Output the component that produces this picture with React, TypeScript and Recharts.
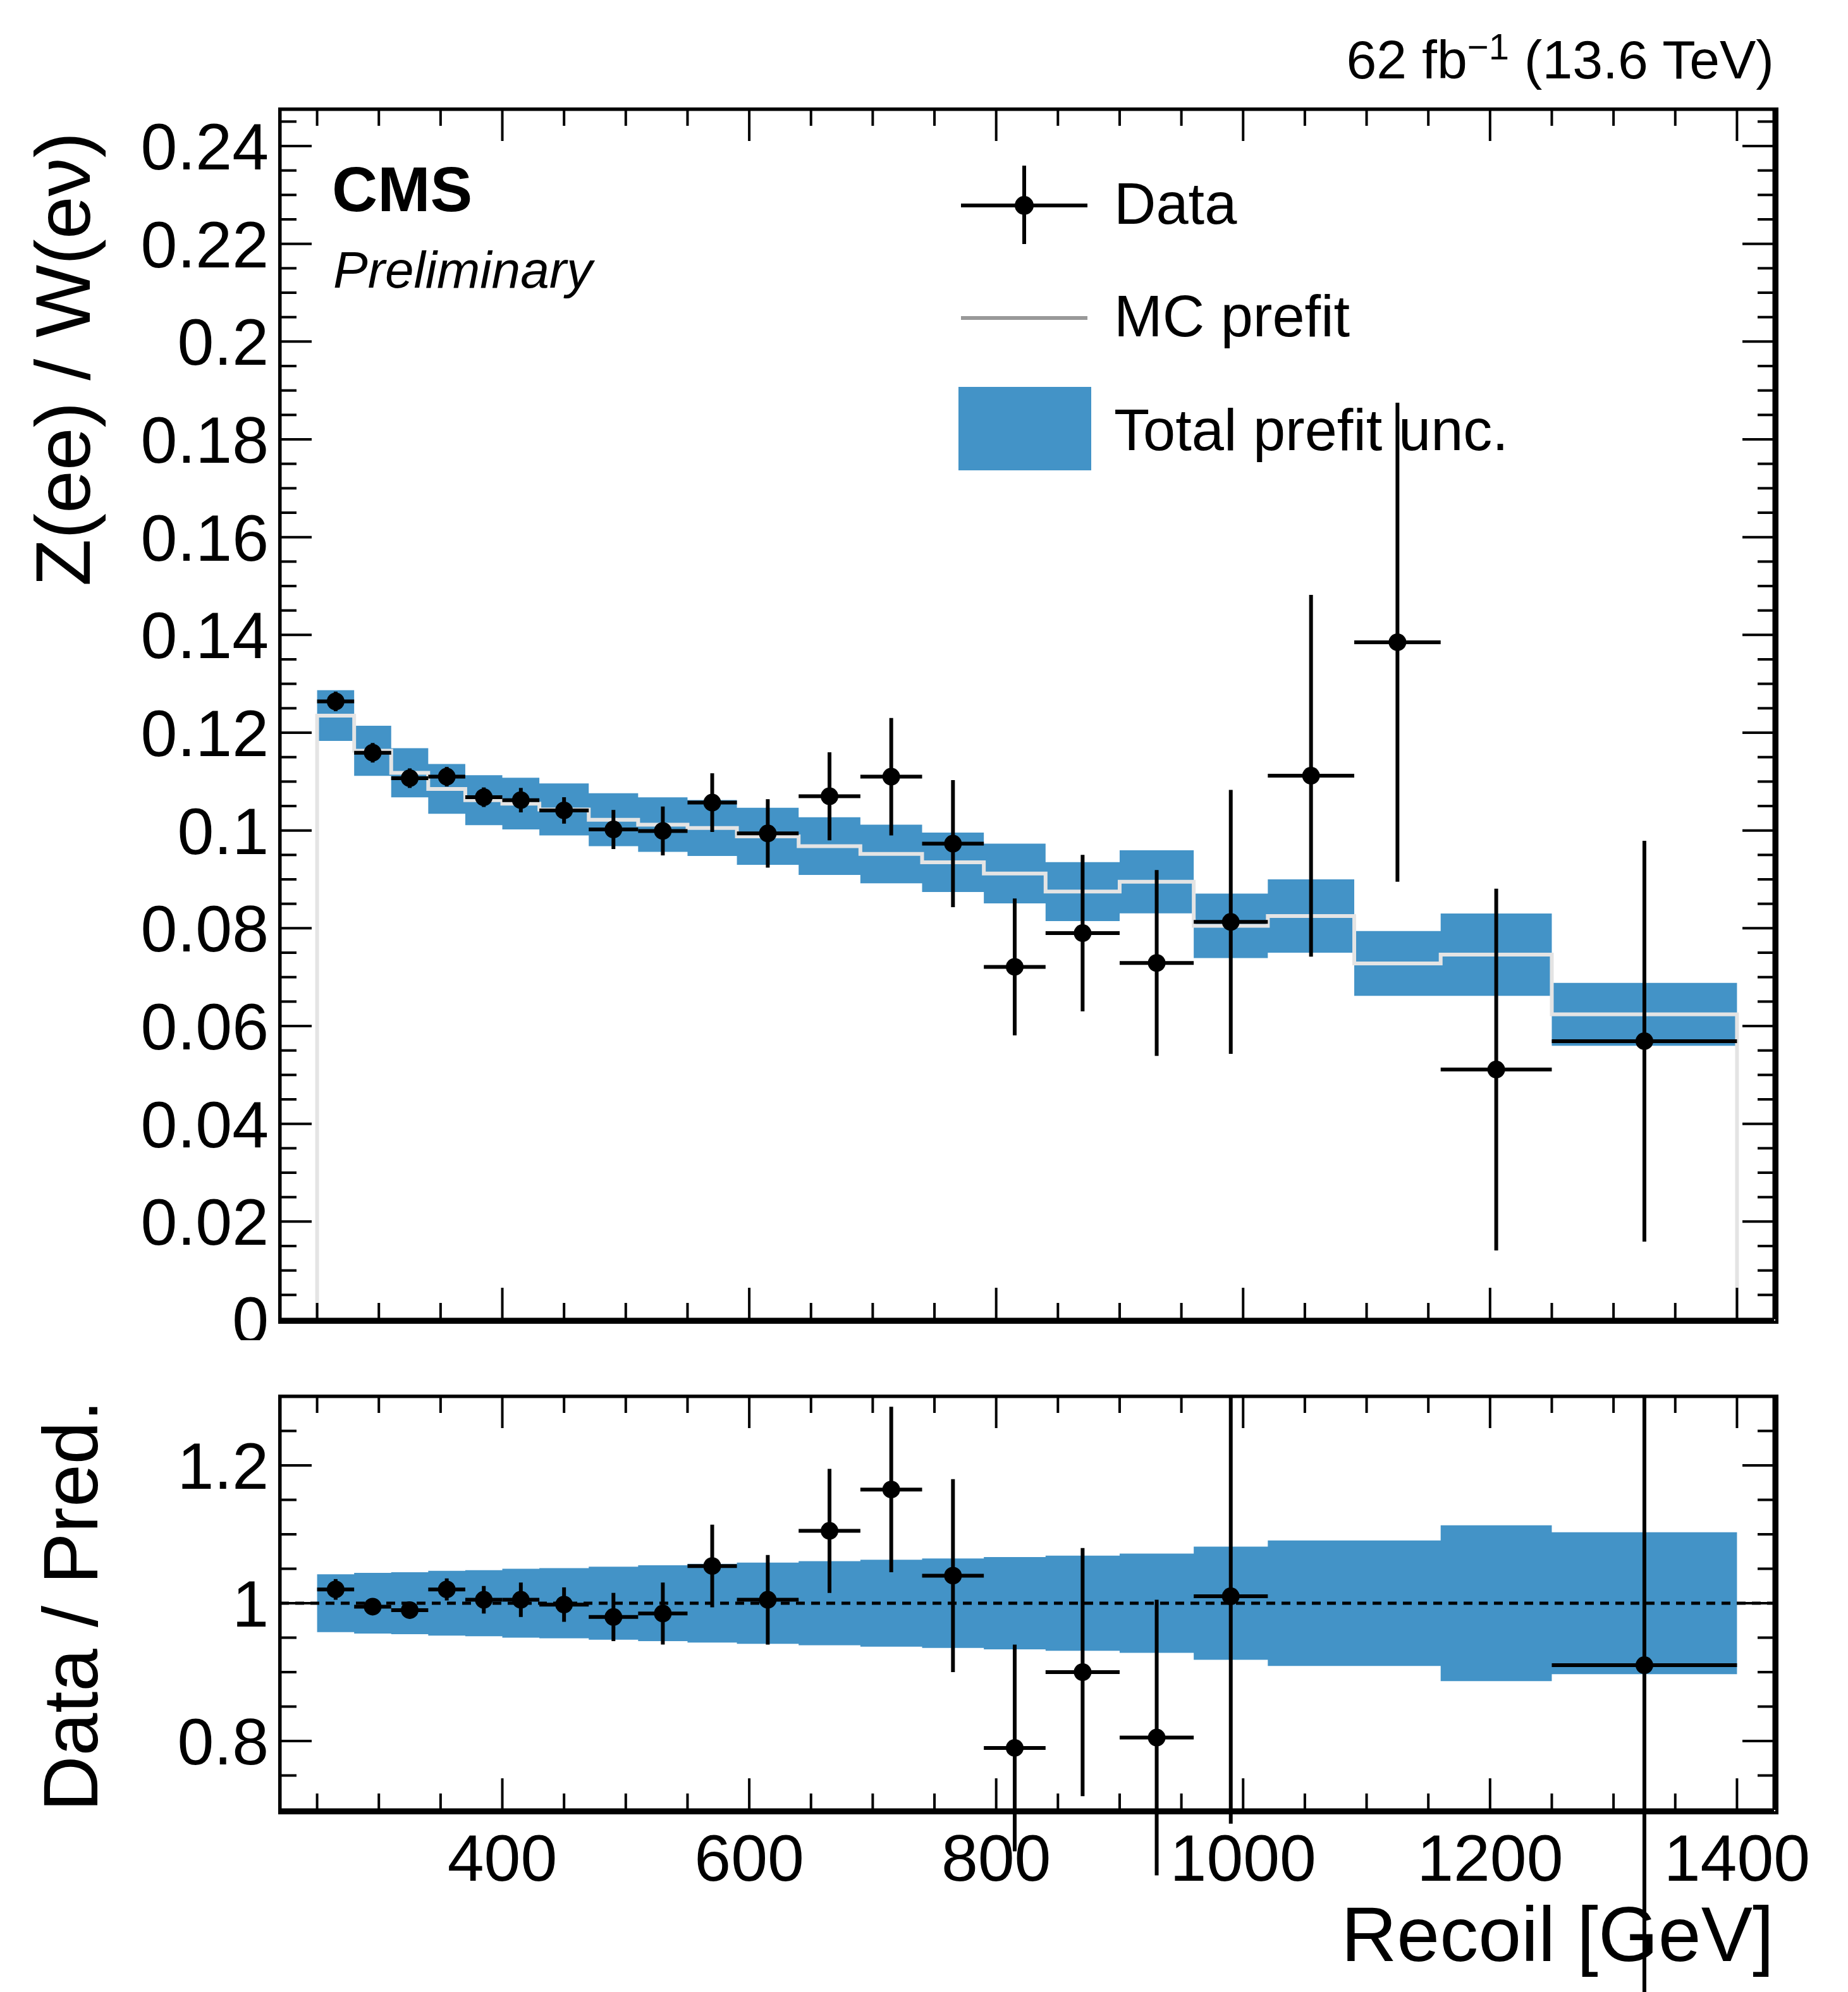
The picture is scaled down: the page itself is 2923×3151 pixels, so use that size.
import React from "react";
import { ComposedChart, XAxis, YAxis, Scatter, ErrorBar, Line, Area, ReferenceLine } from "recharts";

const binEdges = [250,280,310,340,370,400,430,470,510,550,590,640,690,740,790,840,900,960,1020,1090,1160,1250,1400];
const dataVals = [0.1264,0.1159,0.1107,0.111,0.1068,0.1062,0.1041,0.1002,0.0999,0.1057,0.0994,0.107,0.111,0.0973,0.0721,0.079,0.0729,0.0813,0.1112,0.1385,0.0511,0.0569];
const dataErr = [0.002,0.002,0.002,0.002,0.002,0.0025,0.0027,0.004,0.005,0.006,0.007,0.009,0.012,0.013,0.014,0.016,0.019,0.027,0.037,0.049,0.037,0.041];
const mcVals = [0.1235,0.1163,0.1118,0.1085,0.1062,0.1055,0.1043,0.1022,0.1012,0.1005,0.0988,0.0968,0.0952,0.0935,0.0912,0.0875,0.0895,0.0805,0.0825,0.0728,0.0746,0.0624];
const relUnc = [0.042,0.044,0.045,0.047,0.048,0.05,0.051,0.053,0.055,0.057,0.059,0.061,0.063,0.065,0.067,0.069,0.072,0.082,0.091,0.091,0.113,0.103];
const ratioVals = [1.02,0.995,0.99,1.02,1.005,1.005,0.998,0.98,0.985,1.054,1.005,1.105,1.165,1.04,0.79,0.9,0.805,1.01,null,null,null,0.91];
const ratioErr = [0.015,0.012,0.01,0.016,0.02,0.025,0.025,0.035,0.045,0.06,0.065,0.09,0.12,0.14,0.15,0.18,0.2,0.33,null,null,null,0.65];

const W = 2923, H = 3151;
const BLUE = "#4393c7";
const FONT = "'Liberation Sans', Arial, sans-serif";

const centers = binEdges.slice(0, -1).map((e, i) => (e + binEdges[i + 1]) / 2);
const halfW = binEdges.slice(0, -1).map((e, i) => (binEdges[i + 1] - e) / 2);

const topPoints = dataVals.map((v, i) => ({ x: centers[i], y: v, ex: halfW[i], ey: dataErr[i] }));
const ratioPoints = ratioVals.map((v, i) => ({ x: centers[i], y: v, ex: halfW[i], ey: ratioErr[i] })).filter(p => p.y !== null);
const mcLine = [{ x: 250, y: 0 }, ...binEdges.map((e, i) => ({ x: e, y: mcVals[Math.min(i, mcVals.length - 1)] })), { x: 1400, y: 0 }];
const topBand = binEdges.map((e, i) => { const k = Math.min(i, mcVals.length - 1); return { x: e, r: [mcVals[k] * (1 - relUnc[k]), mcVals[k] * (1 + relUnc[k])] }; });
const ratioBand = binEdges.map((e, i) => { const k = Math.min(i, relUnc.length - 1); return { x: e, r: [1 - relUnc[k], 1 + relUnc[k]] }; });

const xTicks: number[] = []; for (let v = 250; v <= 1400; v += 50) xTicks.push(v);
const xMajor = [400, 600, 800, 1000, 1200, 1400];
const yTicks: number[] = []; for (let i = 0; i <= 49; i++) yTicks.push(+(i * 0.005).toFixed(3));
const yMajorLabels = ["0","0.02","0.04","0.06","0.08","0.1","0.12","0.14","0.16","0.18","0.2","0.22","0.24"];
const rTicks: number[] = []; for (let i = 0; i <= 12; i++) rTicks.push(+(0.7 + i * 0.05).toFixed(2));
const rMajor = [0.8, 1, 1.2];

const MAJ = 50, MIN = 26, TF = 104;
const isMaj = (v: number, list: number[]) => list.some(m => Math.abs(m - v) < 1e-6);

const mkX = (side: "bottom" | "top", labels: boolean) => (p: any) => {
  const v = p.payload.value; const maj = isMaj(v, xMajor); const L = maj ? MAJ : MIN;
  const d = side === "bottom" ? -1 : 1;
  return (<g>
    <line x1={p.x} x2={p.x} y1={p.y} y2={p.y + d * L} stroke="#000" strokeWidth={4} />
    {labels && maj && <text x={p.x} y={p.y + 112} textAnchor="middle" fontSize={TF} fontFamily={FONT}>{v}</text>}
  </g>);
};
const mkY = (side: "left" | "right", majList: number[], labelFn: ((v: number) => string) | null) => (p: any) => {
  const v = p.payload.value; const maj = isMaj(v, majList); const L = maj ? MAJ : MIN;
  const d = side === "left" ? 1 : -1;
  return (<g>
    <line x1={p.x} x2={p.x + d * L} y1={p.y} y2={p.y} stroke="#000" strokeWidth={4} />
    {labelFn && maj && <text x={p.x - 18} y={p.y + 37} textAnchor="end" fontSize={TF} fontFamily={FONT}>{labelFn(v)}</text>}
  </g>);
};
const topYLabel = (v: number) => yMajorLabels[Math.round(v / 0.02)];
const topMaj = yMajorLabels.map((_, i) => +(i * 0.02).toFixed(2));

const L = 443, R = 2806;
const T1 = 173, B1 = 2087, T2 = 2209, B2 = 2863;
const axisCommon = { axisLine: { stroke: "#000", strokeWidth: 5 }, tickLine: false, tickSize: 0, tickMargin: 0, interval: 0 as const };

export default function App() {
  return (
    <div style={{ position: "absolute", left: 0, top: 0, width: W, height: H, background: "#fff", fontFamily: FONT }}>
      <div style={{ position: "absolute", left: 0, top: 0 }}>
        <ComposedChart width={W} height={2120} margin={{ left: L - 1, right: W - R - 1, top: T1 - 1, bottom: 2120 - B1 - 1 }}>
          <XAxis xAxisId="b" type="number" dataKey="x" domain={[220, 1430]} ticks={xTicks} height={1} tick={mkX("bottom", false)} {...axisCommon} allowDataOverflow />
          <XAxis xAxisId="t" orientation="top" type="number" dataKey="x" domain={[220, 1430]} ticks={xTicks} height={1} tick={mkX("top", false)} {...axisCommon} allowDataOverflow />
          <YAxis yAxisId="l" type="number" domain={[0, 0.2475]} ticks={yTicks} width={1} tick={mkY("left", topMaj, topYLabel)} {...axisCommon} allowDataOverflow />
          <YAxis yAxisId="r" orientation="right" type="number" domain={[0, 0.2475]} ticks={yTicks} width={1} tick={mkY("right", topMaj, null)} {...axisCommon} allowDataOverflow />
          <Area xAxisId="b" yAxisId="l" data={topBand} dataKey="r" type="stepAfter" fill={BLUE} fillOpacity={1} stroke="none" isAnimationActive={false} />
          <Line xAxisId="b" yAxisId="l" data={mcLine} dataKey="y" type="stepAfter" stroke="#e4e4e4" strokeWidth={6} dot={false} isAnimationActive={false} />
          <Scatter xAxisId="b" yAxisId="l" data={topPoints} dataKey="y" fill="#000" isAnimationActive={false}
            shape={(p: any) => <circle cx={p.cx} cy={p.cy} r={14} fill="#000" />}>
            <ErrorBar dataKey="ey" direction="y" width={0} stroke="#000" strokeWidth={6} />
            <ErrorBar dataKey="ex" direction="x" width={0} stroke="#000" strokeWidth={6} />
          </Scatter>
        </ComposedChart>
      </div>
      <div style={{ position: "absolute", left: 0, top: 2120, width: W, height: H - 2120, overflow: "hidden" }}>
        <ComposedChart width={W} height={H - 2120} margin={{ left: L - 1, right: W - R - 1, top: T2 - 2120 - 1, bottom: H - B2 - 1 }}>
          <XAxis xAxisId="b" type="number" dataKey="x" domain={[220, 1430]} ticks={xTicks} height={1} tick={mkX("bottom", true)} {...axisCommon} allowDataOverflow />
          <XAxis xAxisId="t" orientation="top" type="number" dataKey="x" domain={[220, 1430]} ticks={xTicks} height={1} tick={mkX("top", false)} {...axisCommon} allowDataOverflow />
          <YAxis yAxisId="l" type="number" domain={[0.7, 1.3]} ticks={rTicks} width={1} tick={mkY("left", rMajor, (v) => String(v))} {...axisCommon} allowDataOverflow />
          <YAxis yAxisId="r" orientation="right" type="number" domain={[0.7, 1.3]} ticks={rTicks} width={1} tick={mkY("right", rMajor, null)} {...axisCommon} allowDataOverflow />
          <Area xAxisId="b" yAxisId="l" data={ratioBand} dataKey="r" type="stepAfter" fill={BLUE} fillOpacity={1} stroke="none" isAnimationActive={false} />
          <ReferenceLine xAxisId="b" yAxisId="l" y={1} stroke="#000" strokeWidth={5} strokeDasharray="14 10" />
          <Scatter xAxisId="b" yAxisId="l" data={ratioPoints} dataKey="y" fill="#000" isAnimationActive={false}
            shape={(p: any) => <circle cx={p.cx} cy={p.cy} r={14} fill="#000" />}>
            <ErrorBar dataKey="ey" direction="y" width={0} stroke="#000" strokeWidth={6} />
            <ErrorBar dataKey="ex" direction="x" width={0} stroke="#000" strokeWidth={6} />
          </Scatter>
        </ComposedChart>
      </div>
      {/* white masks to clip ratio overflow outside the panel */}
      <div style={{ position: "absolute", left: L, top: 2120, width: R - L, height: T2 - 2120 - 3, background: "#fff" }} />
      {/* frames */}
      <div style={{ position: "absolute", left: L - 2, top: T1 - 2, width: R - L, height: B1 - T1, border: "5px solid #000", boxSizing: "content-box", pointerEvents: "none", marginLeft: -1, marginTop: -1 }} />
      <div style={{ position: "absolute", left: L - 2, top: T2 - 2, width: R - L, height: B2 - T2, border: "5px solid #000", boxSizing: "content-box", pointerEvents: "none", marginLeft: -1, marginTop: -1 }} />
      {/* axis titles */}
      <div style={{ position: "absolute", left: 100, top: 568, transform: "translate(-50%,-50%) rotate(-90deg)", fontSize: 122, whiteSpace: "nowrap" }}>Z(ee) / W(eν)</div>
      <div style={{ position: "absolute", left: 112, top: 2540, transform: "translate(-50%,-50%) rotate(-90deg)", fontSize: 122, whiteSpace: "nowrap" }}>Data / Pred.</div>
      <div style={{ position: "absolute", right: W - R, top: 2990, fontSize: 122, whiteSpace: "nowrap" }}>Recoil [GeV]</div>
      <div style={{ position: "absolute", right: W - R, top: 40, fontSize: 86, whiteSpace: "nowrap" }}>62 fb<sup style={{ fontSize: 58 }}>−1</sup> (13.6 TeV)</div>
      <div style={{ position: "absolute", left: 525, top: 242, fontSize: 100, fontWeight: "bold" }}>CMS</div>
      <div style={{ position: "absolute", left: 527, top: 380, fontSize: 82, fontStyle: "italic" }}>Preliminary</div>
      {/* legend */}
      <div style={{ position: "absolute", left: 1520, top: 322, width: 200, height: 6, background: "#000" }} />
      <div style={{ position: "absolute", left: 1617, top: 262, width: 6, height: 124, background: "#000" }} />
      <div style={{ position: "absolute", left: 1605, top: 310, width: 30, height: 30, borderRadius: 15, background: "#000" }} />
      <div style={{ position: "absolute", left: 1762, top: 270, fontSize: 92 }}>Data</div>
      <div style={{ position: "absolute", left: 1520, top: 500, width: 200, height: 6, background: "#999" }} />
      <div style={{ position: "absolute", left: 1762, top: 448, fontSize: 92 }}>MC prefit</div>
      <div style={{ position: "absolute", left: 1516, top: 612, width: 210, height: 132, background: BLUE }} />
      <div style={{ position: "absolute", left: 1762, top: 628, fontSize: 92 }}>Total prefit unc.</div>
    </div>
  );
}
